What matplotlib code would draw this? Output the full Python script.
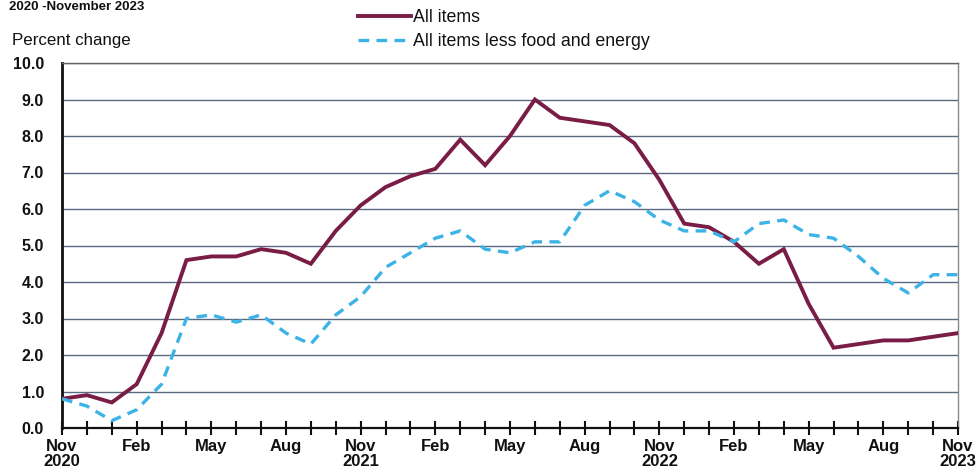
import matplotlib
matplotlib.use("Agg")
import matplotlib.pyplot as plt
from matplotlib import font_manager

months = ["Nov 2020", "Dec 2020", "Jan 2021", "Feb 2021", "Mar 2021", "Apr 2021", "May 2021",
          "Jun 2021", "Jul 2021", "Aug 2021", "Sep 2021", "Oct 2021", "Nov 2021", "Dec 2021",
          "Jan 2022", "Feb 2022", "Mar 2022", "Apr 2022", "May 2022", "Jun 2022", "Jul 2022",
          "Aug 2022", "Sep 2022", "Oct 2022", "Nov 2022", "Dec 2022", "Jan 2023", "Feb 2023",
          "Mar 2023", "Apr 2023", "May 2023", "Jun 2023", "Jul 2023", "Aug 2023", "Sep 2023",
          "Oct 2023", "Nov 2023"]

all_items = [0.8, 0.9, 0.7, 1.2, 2.6, 4.6, 4.7, 4.7, 4.9, 4.8, 4.5, 5.4, 6.1, 6.6,
             6.9, 7.1, 7.9, 7.2, 8.0, 9.0, 8.5, 8.4, 8.3, 7.8, 6.8, 5.6, 5.5, 5.1,
             4.5, 4.9, 3.4, 2.2, 2.3, 2.4, 2.4, 2.5, 2.6]

core = [0.8, 0.6, 0.2, 0.5, 1.2, 3.0, 3.1, 2.9, 3.1, 2.6, 2.3, 3.1, 3.6, 4.4,
        4.8, 5.2, 5.4, 4.9, 4.8, 5.1, 5.1, 6.1, 6.5, 6.2, 5.7, 5.4, 5.4, 5.1,
        5.6, 5.7, 5.3, 5.2, 4.7, 4.1, 3.7, 4.2, 4.2]

xtick_labels = ["Nov\n2020", "Feb", "May", "Aug", "Nov\n2021", "Feb", "May", "Aug",
                "Nov\n2022", "Feb", "May", "Aug", "Nov\n2023"]
ytick_values = [0, 1, 2, 3, 4, 5, 6, 7, 8, 9, 10]

installed = {f.name for f in font_manager.fontManager.ttflist}
base = "Liberation Sans" if "Liberation Sans" in installed else "DejaVu Sans"
narrow = "Liberation Sans Narrow" if "Liberation Sans Narrow" in installed else base
plt.rcParams["font.family"] = [base, "DejaVu Sans"]

fig = plt.figure(figsize=(9.79, 4.75), dpi=100)
ax = fig.add_axes([62 / 979, 1 - 428 / 475, (958 - 62) / 979, (428 - 63) / 475])

x = list(range(len(months)))
ax.plot(x, all_items, color="#7a1d46", lw=2.8, solid_joinstyle="miter", label="All items", zorder=3)
ax.plot(x, core, color="#3cb3e6", lw=2.4, dashes=(3.2, 2.2), label="All items less food and energy", zorder=3)

ax.set_xlim(0, len(months) - 1)
ax.set_ylim(0, 10)
ax.set_yticks(ytick_values)
ax.set_yticklabels([f"{v:.1f}" for v in ytick_values], fontsize=11.5, fontweight="bold")
ax.set_xticks(x)
labels = []
for i in x:
    labels.append(xtick_labels[i // 3] if i % 3 == 0 else "")
ax.set_xticklabels(labels, fontsize=12, fontweight="bold", linespacing=1.0)

ax.tick_params(axis="y", length=0, pad=13, colors="#111111")
ax.tick_params(axis="x", direction="inout", length=10, width=1.5, pad=3, colors="#111111")

for v in ytick_values[1:]:
    ax.axhline(v, color="#5a6880", lw=1.0, zorder=1)

ax.spines["left"].set_linewidth(2.0)
ax.spines["left"].set_color("#111111")
ax.spines["bottom"].set_linewidth(1.6)
ax.spines["bottom"].set_color("#111111")
ax.spines["top"].set_linewidth(1.0)
ax.spines["top"].set_color("#666666")
ax.spines["right"].set_linewidth(1.0)
ax.spines["right"].set_color("#888888")

fig.text(12 / 979, 1 - 41 / 475, "Percent change", fontsize=12.2, family=[narrow, base],
         ha="left", va="center", color="#111111")
fig.text(9 / 979, 1 - 1 / 475, "2020 -November 2023", fontsize=9.5, fontweight="bold",
         ha="left", va="top", color="#111111")

leg = fig.legend(loc="upper left", bbox_to_anchor=(358 / 979, 1 - 9 / 475), frameon=False,
                 prop={"family": [narrow, base], "size": 12.8}, handlelength=3.0,
                 handletextpad=0.1, labelspacing=0.4, borderpad=0, borderaxespad=0)
for t in leg.get_texts():
    t.set_color("#111111")

fig.savefig("out.png", dpi=100)
